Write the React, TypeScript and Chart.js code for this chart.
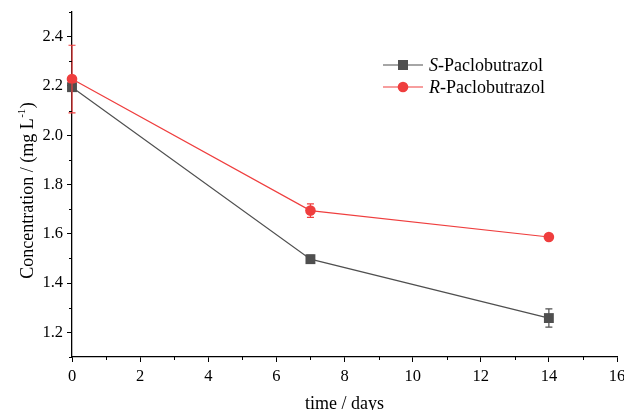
import React, { useEffect, useRef } from "react";
import { Chart, registerables } from "chart.js";

Chart.register(...registerables);

const days = [0, 7, 14];
const sValues = [2.195, 1.497, 1.258];
const sErrors = [0.012, 0.015, 0.037];
const rValues = [2.228, 1.694, 1.587];
const rErrors = [0.137, 0.027, 0.006];
const xTicks = [0, 2, 4, 6, 8, 10, 12, 14, 16];
const xMinorTicks = [1, 3, 5, 7, 9, 11, 13, 15];
const yTicks = [1.2, 1.4, 1.6, 1.8, 2.0, 2.2, 2.4];
const yMinorTicks = [1.1, 1.3, 1.5, 1.7, 1.9, 2.1, 2.3, 2.5];
const seriesNames = ["S", "R"];
const seriesSuffix = "-Paclobutrazol";
const xTitle = "time / days";
const yTitleMain = "Concentration / (mg L";
const yTitleSup = "-1";
const yTitleEnd = ")";

const S_COLOR = "#4f4f4f";
const R_COLOR = "#ef3e3e";
const FONT = "'Liberation Serif', 'Times New Roman', serif";

const extrasPlugin = {
  id: "extras",
  afterDatasetsDraw(chart: any) {
    const ctx = chart.ctx;
    const xs = chart.scales.x;
    const ys = chart.scales.y;
    const series = [
      { vals: sValues, errs: sErrors, color: S_COLOR },
      { vals: rValues, errs: rErrors, color: R_COLOR },
    ];
    ctx.save();
    ctx.lineWidth = 1.2;
    series.forEach((s) => {
      ctx.strokeStyle = s.color;
      days.forEach((d, i) => {
        const px = xs.getPixelForValue(d);
        const top = ys.getPixelForValue(s.vals[i] + s.errs[i]);
        const bot = ys.getPixelForValue(s.vals[i] - s.errs[i]);
        ctx.beginPath();
        ctx.moveTo(px, top);
        ctx.lineTo(px, bot);
        ctx.moveTo(px - 3.5, top);
        ctx.lineTo(px + 3.5, top);
        ctx.moveTo(px - 3.5, bot);
        ctx.lineTo(px + 3.5, bot);
        ctx.stroke();
      });
    });
    // minor ticks
    ctx.strokeStyle = "#000";
    ctx.lineWidth = 1;
    xMinorTicks.forEach((v) => {
      const px = Math.round(xs.getPixelForValue(v)) + 0.5;
      ctx.beginPath();
      ctx.moveTo(px, xs.top);
      ctx.lineTo(px, xs.top + 3);
      ctx.stroke();
    });
    yMinorTicks.forEach((v) => {
      const py = Math.round(ys.getPixelForValue(v)) + 0.5;
      ctx.beginPath();
      ctx.moveTo(ys.right, py);
      ctx.lineTo(ys.right - 3, py);
      ctx.stroke();
    });
    // legend
    const colors = [S_COLOR, R_COLOR];
    const legendY = [65, 87];
    seriesNames.forEach((name, i) => {
      const y = legendY[i];
      ctx.strokeStyle = colors[i];
      ctx.fillStyle = colors[i];
      ctx.lineWidth = 1.2;
      ctx.beginPath();
      ctx.moveTo(383, y);
      ctx.lineTo(423, y);
      ctx.stroke();
      if (i === 0) {
        ctx.fillRect(403 - 5, y - 5, 10, 10);
      } else {
        ctx.beginPath();
        ctx.arc(403, y, 5.3, 0, Math.PI * 2);
        ctx.fill();
      }
      ctx.fillStyle = "#000";
      ctx.textBaseline = "middle";
      ctx.textAlign = "left";
      ctx.font = `italic 18px ${FONT}`;
      ctx.fillText(name, 429, y + 1);
      const w = ctx.measureText(name).width;
      ctx.font = `18px ${FONT}`;
      ctx.fillText(seriesSuffix, 429 + w, y + 1);
    });
    // x title
    ctx.fillStyle = "#000";
    ctx.font = `18px ${FONT}`;
    ctx.textAlign = "center";
    ctx.textBaseline = "middle";
    ctx.fillText(xTitle, (chart.chartArea.left + chart.chartArea.right) / 2, 404);
    // y title (rotated, with superscript)
    ctx.save();
    ctx.translate(28, 191);
    ctx.rotate(-Math.PI / 2);
    ctx.textAlign = "left";
    ctx.textBaseline = "middle";
    ctx.font = `18px ${FONT}`;
    const w1 = ctx.measureText(yTitleMain).width;
    ctx.font = `11px ${FONT}`;
    const w2 = ctx.measureText(yTitleSup).width;
    ctx.font = `18px ${FONT}`;
    const w3 = ctx.measureText(yTitleEnd).width;
    let x0 = -(w1 + w2 + w3) / 2;
    ctx.fillText(yTitleMain, x0, 0);
    x0 += w1;
    ctx.font = `11px ${FONT}`;
    ctx.fillText(yTitleSup, x0 + 0.5, -6);
    x0 += w2 + 1;
    ctx.font = `18px ${FONT}`;
    ctx.fillText(yTitleEnd, x0, 0);
    ctx.restore();
    ctx.restore();
  },
};

export default function App() {
  const ref = useRef<HTMLCanvasElement>(null);
  useEffect(() => {
    document.body.style.margin = "0";
    const chart = new Chart(ref.current!, {
      type: "line",
      data: {
        datasets: [
          {
            label: "R-Paclobutrazol",
            data: days.map((d, i) => ({ x: d, y: rValues[i] })),
            borderColor: R_COLOR,
            backgroundColor: R_COLOR,
            borderWidth: 1.2,
            pointStyle: "circle",
            pointRadius: 5.3,
            pointBorderWidth: 0,
            clip: false as any,
          },
          {
            label: "S-Paclobutrazol",
            data: days.map((d, i) => ({ x: d, y: sValues[i] })),
            borderColor: S_COLOR,
            backgroundColor: S_COLOR,
            borderWidth: 1.2,
            pointStyle: "rect",
            pointRadius: 7,
            pointBorderWidth: 0,
            clip: false as any,
          },
        ],
      },
      options: {
        responsive: false,
        animation: false,
        layout: { padding: { top: 12, right: 3, left: 0, bottom: 0 } },
        plugins: { legend: { display: false }, tooltip: { enabled: false } },
        scales: {
          x: {
            type: "linear",
            min: 0,
            max: 16,
            afterBuildTicks: (s: any) => {
              s.ticks = xTicks.map((v) => ({ value: v }));
            },
            afterFit: (s: any) => {
              s.height = 53;
              s.paddingLeft = 0;
              s.paddingRight = 0;
            },
            grid: { drawOnChartArea: false, drawTicks: true, tickLength: 5, tickColor: "#000", tickWidth: 1 },
            border: { display: true, color: "#000", width: 1.3 },
            ticks: { color: "#000", font: { family: FONT, size: 16.5 }, padding: 5, maxRotation: 0, autoSkip: false },
            title: { display: false },
          },
          y: {
            type: "linear",
            min: 1.1,
            max: 2.5,
            afterBuildTicks: (s: any) => {
              s.ticks = yTicks.map((v) => ({ value: v }));
            },
            afterFit: (s: any) => {
              s.width = 72;
              s.paddingTop = 0;
              s.paddingBottom = 0;
            },
            grid: { drawOnChartArea: false, drawTicks: true, tickLength: 5, tickColor: "#000", tickWidth: 1 },
            border: { display: true, color: "#000", width: 1.3 },
            ticks: {
              color: "#000",
              font: { family: FONT, size: 16.5 },
              padding: 4,
              autoSkip: false,
              callback: (v: any) => Number(v).toFixed(1),
            },
            title: { display: false },
          },
        },
      },
      plugins: [extrasPlugin],
    });
    return () => chart.destroy();
  }, []);
  return (
    <div style={{ position: "fixed", left: 0, top: 0, width: 624, height: 410, background: "#fff" }}>
      <canvas ref={ref} width={624} height={410} />
    </div>
  );
}
